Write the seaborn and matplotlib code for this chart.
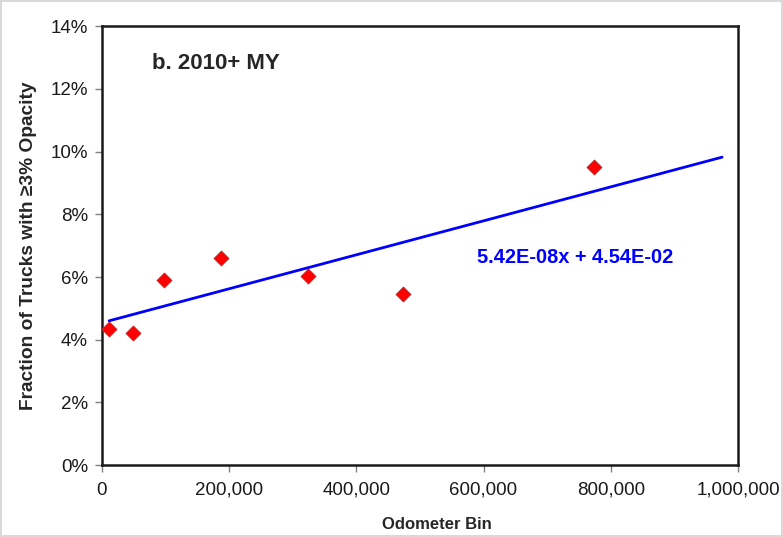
import numpy as np
import pandas as pd
import matplotlib
matplotlib.use("Agg")
import matplotlib.pyplot as plt
import matplotlib.ticker as mticker
import seaborn as sns

# Odometer bin midpoints and fraction of trucks with >=3% opacity
odometer = [11500, 49000, 98500, 187000, 324500, 473000, 773000]
fraction = [0.0434, 0.0420, 0.0592, 0.0662, 0.0603, 0.0545, 0.0950]

# linear fit shown on the chart
slope = 5.42e-08
intercept = 4.54e-02
fit_x = [11500, 975000]

x_ticks = [0, 200000, 400000, 600000, 800000, 1000000]
y_ticks = [0, 0.02, 0.04, 0.06, 0.08, 0.10, 0.12, 0.14]

sns.set_style("white")
plt.rcParams['font.family'] = ['Liberation Sans', 'DejaVu Sans']

df = pd.DataFrame({'odometer': odometer, 'fraction': fraction})
fit = pd.DataFrame({'x': fit_x, 'y': [slope * v + intercept for v in fit_x]})

fig, ax = plt.subplots(figsize=(7.83, 5.37), dpi=100)
fig.subplots_adjust(left=0.130, right=0.9425, top=0.951, bottom=0.134)
fig.patch.set_edgecolor('#d9d9d9')
fig.patch.set_linewidth(1.5)

sns.lineplot(data=fit, x='x', y='y', color='#0000ff', linewidth=2.0, ax=ax)
sns.scatterplot(data=df, x='odometer', y='fraction', marker='D', s=55,
                color='#ff0000', edgecolor='#c81e1e', linewidth=0.8, zorder=3, ax=ax)

ax.set_xlim(0, 1000000)
ax.set_ylim(0, 0.14)
ax.set_xticks(x_ticks)
ax.set_yticks(y_ticks)
ax.xaxis.set_major_formatter(mticker.FuncFormatter(lambda v, p: f"{int(v):,}"))
ax.yaxis.set_major_formatter(mticker.FuncFormatter(lambda v, p: f"{v*100:.0f}%"))
ax.tick_params(axis='both', direction='out', length=5, width=1, color='#808080',
               labelsize=13.5, pad=5, bottom=True, left=True, labelcolor='#1a1a1a')
ax.tick_params(axis='x', pad=7)

for s in ax.spines.values():
    s.set_color('#1a1a1a')
    s.set_linewidth(1.8)

ax.set_xlabel("Odometer Bin", fontsize=12, fontweight='bold')
ax.xaxis.set_label_coords(0.527, -0.119)
ax.set_ylabel("Fraction of Trucks with ≥3% Opacity", fontsize=13.75, fontweight='bold', labelpad=10)

ax.text(0.079, 0.916, "b. 2010+ MY", transform=ax.transAxes, fontsize=16,
        fontweight='bold', va='center', ha='left')
ax.text(0.59, 0.474, "5.42E-08x + 4.54E-02", transform=ax.transAxes, fontsize=14.4,
        fontweight='bold', color='#0000ff', va='center', ha='left')

fig.savefig("out.png", dpi=100, edgecolor=fig.get_edgecolor())
